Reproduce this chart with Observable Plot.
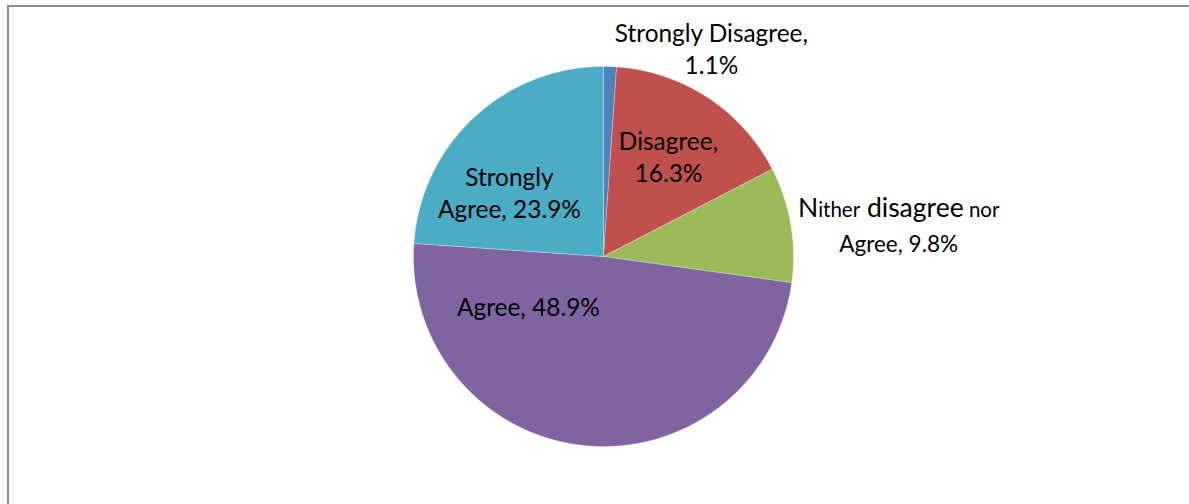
<!DOCTYPE html>
<html><head><meta charset="utf-8">
<script src="https://cdn.jsdelivr.net/npm/d3@7"></script>
<script src="https://cdn.jsdelivr.net/npm/@observablehq/plot@0.6"></script>
<style>
html,body{margin:0;padding:0;background:#fff;overflow:hidden;}
#wrap{position:relative;width:1189px;height:504px;overflow:hidden;}
#frame{position:absolute;left:7px;top:5px;width:1300px;height:700px;border:2px solid #8c8c8c;box-sizing:border-box;pointer-events:none;}
</style></head><body><div id="wrap"><div id="chart"></div><div id="frame"></div></div>
<script>
// ---- data ----
const categories = ["Strongly Disagree", "Disagree", "Nither disagree nor Agree", "Agree", "Strongly Agree"];
const percentages = [1.1, 16.3, 9.8, 48.9, 23.9];
const colors = ["#4F81BD", "#C0504D", "#9BBB59", "#8064A2", "#4BACC6"];
const labelTexts = ["Strongly Disagree,\n1.1%", "Disagree,\n16.3%", "Nither disagree nor\nAgree, 9.8%", "Agree, 48.9%", "Strongly\nAgree, 23.9%"];

// ---- label layout (angle clockwise from top in degrees, distance in pie radii) ----
const labelAngle = [27.3, 32.75, 84.4, 236.85, 304.65];
const labelRadius = [1.238, 0.632, 1.561, 0.472, 0.602];

// ---- geometry ----
const pie = d3.pie().sort(null).value(d => d)(percentages);
const slicePts = [];
pie.forEach((p, i) => {
  const n = Math.max(2, Math.ceil((p.endAngle - p.startAngle) / 0.005));
  slicePts.push({cat: categories[i], x: 0, y: 0});
  for (let k = 0; k <= n; k++) {
    const a = p.startAngle + (p.endAngle - p.startAngle) * k / n;
    slicePts.push({cat: categories[i], x: Math.sin(a), y: Math.cos(a)});
  }
  slicePts.push({cat: categories[i], x: 0, y: 0});
});
const labels = categories.map((c, i) => {
  const a = labelAngle[i] * Math.PI / 180;
  return {cat: c, text: labelTexts[i], x: labelRadius[i] * Math.sin(a), y: labelRadius[i] * Math.cos(a)};
});
const plainLabels = labels.filter((d, i) => i !== 2);
const neitherLabel = [labels[2]];

const W = 1189, H = 504, R = 190, CX = 603, CY = 256;

const chart = Plot.plot({
  width: W, height: H, margin: 0,
  style: {background: "transparent", overflow: "visible"},
  x: {domain: [-CX / R, (W - CX) / R], axis: null},
  y: {domain: [-(H - CY) / R, CY / R], axis: null},
  color: {domain: categories, range: colors},
  marks: [
    Plot.line(slicePts, {x: "x", y: "y", z: "cat", fill: "cat", stroke: "white", strokeWidth: 0.6, strokeOpacity: 0.45, curve: "linear"}),
    Plot.text(plainLabels, {x: "x", y: "y", text: "text", fontSize: 24.4, lineHeight: 1.31, lineAnchor: "middle", textAnchor: "middle", fill: "black", fontFamily: "Lato"}),
    Plot.text(neitherLabel, {x: "x", y: "y", text: "text", fontSize: 24, lineAnchor: "middle", textAnchor: "middle", fill: "black", fontFamily: "Lato",
      render(index, scales, values, dimensions, context, next) {
        const g = next(index, scales, values, dimensions, context);
        g.querySelectorAll("text").forEach(t => {
          while (t.firstChild) t.removeChild(t.firstChild);
          const ns = "http://www.w3.org/2000/svg";
          const parts = [["N", 26.5, true], ["ither", 20.5, false], [" disagree", 26.5, false], [" nor", 20.5, false]];
          parts.forEach(([s, fs, first]) => {
            const ts = document.createElementNS(ns, "tspan");
            if (first) { ts.setAttribute("x", 0); ts.setAttribute("y", -11); }
            ts.setAttribute("font-size", fs);
            ts.textContent = s;
            t.appendChild(ts);
          });
          const l2 = document.createElementNS(ns, "tspan");
          l2.setAttribute("x", 0); l2.setAttribute("y", 24);
          l2.setAttribute("font-size", 22.5);
          l2.textContent = "Agree, 9.8%";
          t.appendChild(l2);
          t.removeAttribute("dy");
        });
        return g;
      }
    })
  ]
});
document.getElementById("chart").appendChild(chart);
</script>
</body></html>
